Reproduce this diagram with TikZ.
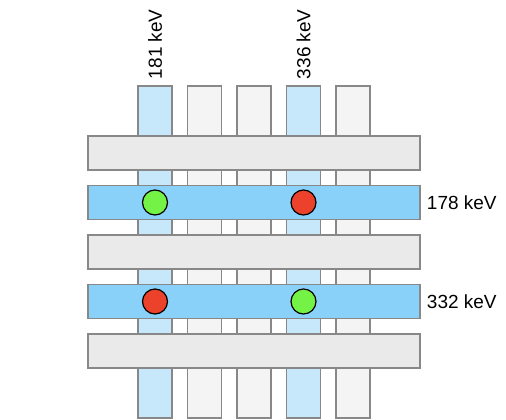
\documentclass[tikz,border=0pt]{standalone}
\usepackage{fontspec}
\setmainfont{Liberation Sans}
\usepackage{tikz}
\usepackage{xcolor}

\definecolor{edgegray}{HTML}{888888}
\definecolor{colblue}{HTML}{C6E8FA}
\definecolor{colgray}{HTML}{F4F4F4}
\definecolor{bargray}{HTML}{EAEAEA}
\definecolor{barblue}{HTML}{8AD1FA}
\definecolor{hitred}{HTML}{EC412A}
\definecolor{hitgreen}{HTML}{74F246}

\begin{document}
\begin{tikzpicture}[x=1pt,y=-1pt,
		column/.style={draw=edgegray, line width=1.5pt, inner sep=0pt, minimum width=34pt, minimum height=332pt},
		bar/.style={draw=edgegray, line width=1.5pt, inner sep=0pt, minimum width=332pt, minimum height=34pt},
		hit/.style={circle, draw=black, line width=1.2pt, inner sep=0pt, minimum size=25pt},
		energy/.style={inner sep=0pt, font=\fontsize{19}{21}\selectfont}]
	\useasboundingbox (0,0) rectangle (506,420);

	% Vertical strips
	\node[column, fill=colblue] (c1) at (155,252) {};
	\node[column, fill=colgray] (c2) at (204.5,252) {};
	\node[column, fill=colgray] (c3) at (254,252) {};
	\node[column, fill=colblue] (c4) at (303.5,252) {};
	\node[column, fill=colgray] (c5) at (353,252) {};

	% Horizontal strips
	\node[bar, fill=bargray] (r1) at (254,153) {};
	\node[bar, fill=barblue] (r2) at (254,202.5) {};
	\node[bar, fill=bargray] (r3) at (254,252) {};
	\node[bar, fill=barblue] (r4) at (254,301.5) {};
	\node[bar, fill=bargray] (r5) at (254,351) {};

	% Hits
	\node[hit, fill=hitgreen] (h1) at (c1 |- r2) {};
	\node[hit, fill=hitred] (h2) at (c4 |- r2) {};
	\node[hit, fill=hitred] (h3) at (c1 |- r4) {};
	\node[hit, fill=hitgreen] (h4) at (c4 |- r4) {};

	% Energies
	\node[energy, rotate=90, anchor=west] (e1) at ([yshift=6pt]c1.north) {181 keV};
	\node[energy, rotate=90, anchor=west] (e4) at ([yshift=6pt]c4.north) {336 keV};
	\node[energy, anchor=west] (e2) at ([xshift=6pt]r2.east) {178 keV};
	\node[energy, anchor=west] (e3) at ([xshift=6pt]r4.east) {332 keV};
\end{tikzpicture}
\end{document}
